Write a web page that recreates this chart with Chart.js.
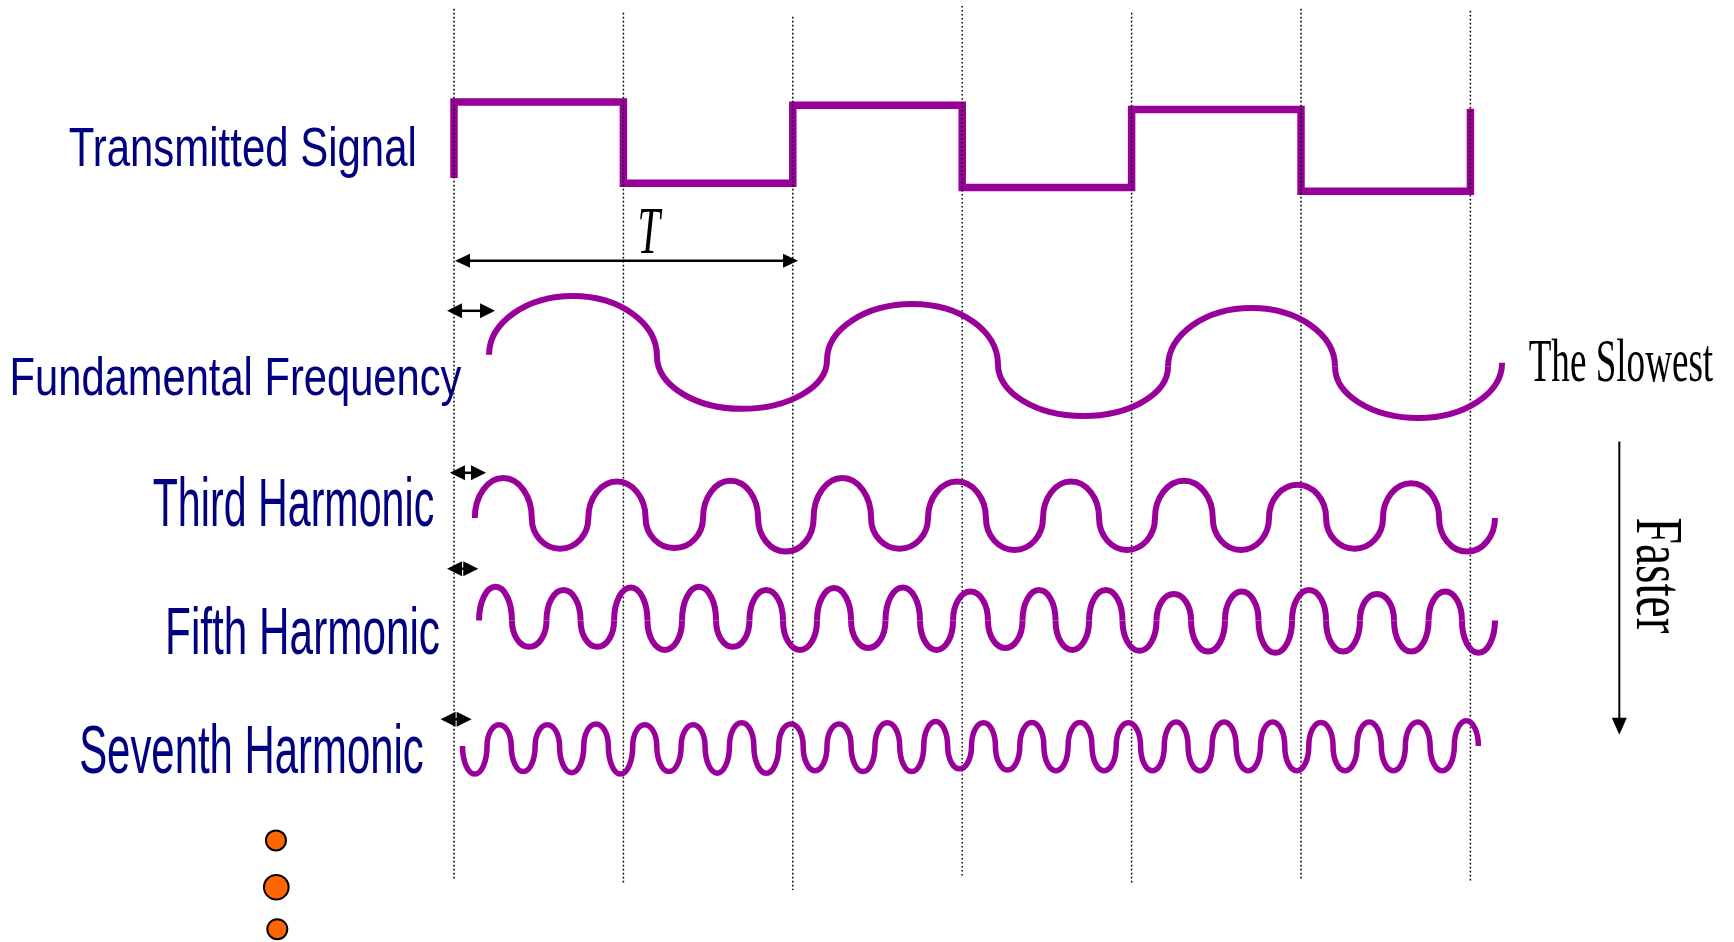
<!DOCTYPE html>
<html>
<head>
<meta charset="utf-8">
<title>Square wave and its odd harmonics</title>
<script src="https://cdn.jsdelivr.net/npm/chart.js@4.4.1/dist/chart.umd.min.js"></script>
<style>
  html, body { margin: 0; padding: 0; background: #fff; }
  #wrap { width: 1734px; height: 942px; }
</style>
</head>
<body>
<div id="wrap"><canvas id="chart" width="1734" height="942"></canvas></div>
<script>
// x axis: time in bit periods (T/2), 0 = first dotted line
// y axis: signal level in arbitrary units
const X_MIN = -2.68;
const X_MAX = 7.556;
const Y_MIN = 0;
const Y_MAX = 23.55;

// Bit boundaries (dotted lines) and how far each line reaches
const bitEdges = [0, 1, 2, 3, 4, 5, 6];
const gridTop = [23.33, 23.23, 23.13, 23.4, 23.23, 23.33, 23.28];
const gridBottom = [1.58, 1.43, 1.3, 1.63, 1.43, 1.58, 1.53];

// Transmitted square wave: level of each bit
const squareStart = 19.1;
const squareLevels = [21.0, 18.97, 20.92, 18.86, 20.81, 18.77];
const squareEnd = 20.83;

// Fundamental: zero crossings (t), level at each crossing, peak/trough levels
const fundNodes = [0.207, 1.198, 2.202, 3.211, 4.215, 5.201, 6.187];
const fundBase = [14.68, 14.65, 14.55, 14.45, 14.38, 14.38, 14.48];
const fundApex = [16.15, 13.33, 15.95, 13.15, 15.85, 13.1];

// Third harmonic
const thirdNodes = [0.123, 0.459, 0.793, 1.131, 1.47, 1.795, 2.123, 2.462, 2.798, 3.14,
  3.477, 3.808, 4.138, 4.479, 4.811, 5.148, 5.484, 5.815, 6.145];
const thirdBase = 10.6;
const thirdApex = [11.6, 9.83, 11.51, 9.85, 11.53, 9.76, 11.6, 9.83, 11.51, 9.8,
  11.51, 9.8, 11.53, 9.8, 11.43, 9.83, 11.47, 9.76];

// Fifth harmonic
const fifthNodes = [0.148, 0.342, 0.546, 0.747, 0.945, 1.142, 1.346, 1.547, 1.744, 1.942,
  2.143, 2.344, 2.547, 2.751, 2.946, 3.152, 3.356, 3.551, 3.749, 3.946,
  4.147, 4.351, 4.551, 4.749, 4.947, 5.148, 5.348, 5.549, 5.753, 5.95, 6.145];
const fifthBase = 8.04;
const fifthApex = [8.88, 7.38, 8.8, 7.38, 8.86, 7.3, 8.88, 7.38, 8.8, 7.3,
  8.85, 7.35, 8.86, 7.3, 8.76, 7.35, 8.8, 7.3, 8.8, 7.28,
  8.7, 7.26, 8.76, 7.23, 8.8, 7.26, 8.7, 7.26, 8.76, 7.23];

// Seventh harmonic (starts with a trough)
const seventhNodes = [0.05, 0.195, 0.338, 0.479, 0.623, 0.766, 0.911, 1.055, 1.197, 1.341,
  1.482, 1.626, 1.77, 1.917, 2.061, 2.202, 2.344, 2.485, 2.631, 2.773,
  2.914, 3.055, 3.196, 3.34, 3.482, 3.625, 3.766, 3.909, 4.053, 4.193,
  4.333, 4.475, 4.617, 4.761, 4.904, 5.046, 5.189, 5.331, 5.474, 5.616,
  5.762, 5.905, 6.047];
const seventhBase = 4.9;
const seventhApex = [4.2, 5.43, 4.26, 5.43, 4.23, 5.45, 4.2, 5.43, 4.26, 5.43,
  4.22, 5.48, 4.22, 5.45, 4.28, 5.45, 4.26, 5.48, 4.26, 5.51,
  4.33, 5.48, 4.3, 5.49, 4.28, 5.49, 4.28, 5.48, 4.28, 5.5,
  4.28, 5.5, 4.28, 5.5, 4.28, 5.49, 4.28, 5.5, 4.28, 5.5,
  4.28, 5.53];

// Phase-offset markers at the left of each wave
const offsetFrom = [-0.041, -0.024, -0.041, -0.079];
const offsetTo = [0.242, 0.189, 0.143, 0.104];
const offsetLevel = [15.78, 11.73, 9.33, 5.57];

// Period arrow "T" and the "Faster" arrow
const periodArrow = [0.006, 2.031, 17.03];
const fasterArrow = [6.879, 12.51, 5.18];

// "more harmonics" dots
const dotsT = [-1.051, -1.049, -1.043];
const dotsV = [2.54, 1.37, 0.32];

const PURPLE = "#990099";
const NAVY = "#000080";
const ORANGE = "#ff6600";
const SANS = '"Liberation Sans", Arial, sans-serif';
const SERIF = '"Liberation Serif", "Times New Roman", serif';

// Text placement (ink left, baseline, ink width, cap height in px)
const labels = [
  { text: "Transmitted Signal", x: 69.4, y: 166, w: 345, cap: 37.7, family: SANS, color: NAVY },
  { text: "Fundamental Frequency", x: 12.7, y: 395, w: 449, cap: 36.7, family: SANS, color: NAVY },
  { text: "Third Harmonic", x: 153.3, y: 526, w: 280, cap: 47.7, family: SANS, color: NAVY },
  { text: "Fifth Harmonic", x: 168.3, y: 654, w: 271, cap: 45.7, family: SANS, color: NAVY },
  { text: "Seventh Harmonic", x: 81, y: 772.7, w: 342.3, cap: 46.7, family: SANS, color: NAVY },
  { text: "The Slowest", x: 1529.3, y: 381, w: 184, cap: 39.3, family: SERIF, color: "#000" },
  { text: "T", x: 640, y: 253.3, w: 22.7, cap: 44, family: SERIF, style: "italic", color: "#000" },
  { text: "Faster", x: 1636.7, y: 518.3, w: 115, cap: 43.3, family: SERIF, color: "#000", angle: Math.PI / 2 },
];

// Build chart points from the arrays above
const squarePoints = [{ x: bitEdges[0], y: squareStart }];
squareLevels.forEach((lvl, i) => {
  squarePoints.push({ x: bitEdges[i], y: lvl }, { x: bitEdges[i + 1], y: lvl });
});
squarePoints.push({ x: bitEdges[bitEdges.length - 1], y: squareEnd });

function wavePoints(nodes, base, apex) {
  const pts = [];
  nodes.forEach((t, i) => {
    pts.push({ x: t, y: Array.isArray(base) ? base[i] : base });
    if (i < apex.length) pts.push({ x: (t + nodes[i + 1]) / 2, y: apex[i] });
  });
  return pts;
}

const gridSets = bitEdges.map((t, i) => ({
  data: [{ x: t, y: gridTop[i] }, { x: t, y: gridBottom[i] }],
  borderColor: "#000",
  borderWidth: 1.5,
  borderDash: [1.6, 2.4],
  pointRadius: 0,
}));

function waveSet(pts, width) {
  return { data: pts, showLine: false, pointRadius: 0, lobeWidth: width, lobeColor: PURPLE };
}

// Waves are drawn as joined half-ellipse lobes through the dataset points
const K = 0.5523;
const lobePlugin = {
  id: "lobes",
  afterDatasetsDraw(chart) {
    const ctx = chart.ctx;
    chart.data.datasets.forEach((ds, di) => {
      if (!ds.lobeWidth) return;
      const pts = chart.getDatasetMeta(di).data;
      ctx.save();
      ctx.strokeStyle = ds.lobeColor;
      ctx.lineWidth = ds.lobeWidth;
      ctx.lineCap = "butt";
      for (let i = 0; i + 2 < pts.length; i += 2) {
        const a = pts[i], p = pts[i + 1], b = pts[i + 2];
        ctx.beginPath();
        ctx.moveTo(a.x, a.y);
        ctx.bezierCurveTo(a.x, a.y + K * (p.y - a.y), p.x - K * (p.x - a.x), p.y, p.x, p.y);
        ctx.bezierCurveTo(p.x + K * (b.x - p.x), p.y, b.x, b.y + K * (p.y - b.y), b.x, b.y);
        ctx.stroke();
      }
      ctx.restore();
    });
  },
};

function arrowHead(ctx, tx, ty, ux, uy, len, half) {
  const bx = tx - ux * len, by = ty - uy * len;
  ctx.beginPath();
  ctx.moveTo(tx, ty);
  ctx.lineTo(bx - uy * half, by + ux * half);
  ctx.lineTo(bx + uy * half, by - ux * half);
  ctx.closePath();
  ctx.fill();
}

function drawArrow(ctx, x1, y1, x2, y2, both, len, half) {
  const d = Math.hypot(x2 - x1, y2 - y1);
  const ux = (x2 - x1) / d, uy = (y2 - y1) / d;
  const L = Math.min(len, both ? d / 2 : d);
  const s = both ? L * 0.8 : 0;
  ctx.beginPath();
  ctx.moveTo(x1 + ux * s, y1 + uy * s);
  ctx.lineTo(x2 - ux * L * 0.8, y2 - uy * L * 0.8);
  ctx.stroke();
  arrowHead(ctx, x2, y2, ux, uy, L, half);
  if (both) arrowHead(ctx, x1, y1, -ux, -uy, L, half);
}

const arrowPlugin = {
  id: "arrows",
  afterDatasetsDraw(chart) {
    const ctx = chart.ctx;
    const xs = chart.scales.x, ys = chart.scales.y;
    ctx.save();
    ctx.fillStyle = "#000";
    ctx.strokeStyle = "#000";
    ctx.lineWidth = 2.5;
    offsetFrom.forEach((t, i) => {
      const y = ys.getPixelForValue(offsetLevel[i]);
      drawArrow(ctx, xs.getPixelForValue(t), y, xs.getPixelForValue(offsetTo[i]), y, true, 15, 7.5);
    });
    const py = ys.getPixelForValue(periodArrow[2]);
    drawArrow(ctx, xs.getPixelForValue(periodArrow[0]), py, xs.getPixelForValue(periodArrow[1]), py, true, 15, 7);
    ctx.lineWidth = 2;
    const fx = xs.getPixelForValue(fasterArrow[0]);
    drawArrow(ctx, fx, ys.getPixelForValue(fasterArrow[1]), fx, ys.getPixelForValue(fasterArrow[2]), false, 17, 7.5);
    ctx.restore();
  },
};

// Text is squeezed to the measured ink box of the original
const textPlugin = {
  id: "labels",
  afterDraw(chart) {
    const ctx = chart.ctx;
    labels.forEach((l) => {
      ctx.save();
      const st = l.style ? l.style + " " : "";
      ctx.font = `${st}100px ${l.family}`;
      const capRatio = ctx.measureText("H").actualBoundingBoxAscent / 100;
      ctx.font = `${st}${l.cap / capRatio}px ${l.family}`;
      const m = ctx.measureText(l.text);
      const inkW = m.actualBoundingBoxLeft + m.actualBoundingBoxRight;
      ctx.translate(l.x, l.y);
      if (l.angle) ctx.rotate(l.angle);
      ctx.scale(l.w / inkW, 1);
      ctx.fillStyle = l.color;
      ctx.textAlign = "left";
      ctx.textBaseline = "alphabetic";
      ctx.fillText(l.text, m.actualBoundingBoxLeft, 0);
      ctx.restore();
    });
  },
};

new Chart(document.getElementById("chart"), {
  type: "line",
  data: {
    datasets: [
      ...gridSets,
      {
        data: squarePoints,
        borderColor: PURPLE,
        borderWidth: 7.5,
        borderJoinStyle: "miter",
        borderCapStyle: "butt",
        tension: 0,
        pointRadius: 0,
      },
      waveSet(wavePoints(fundNodes, fundBase, fundApex), 6),
      waveSet(wavePoints(thirdNodes, thirdBase, thirdApex), 6),
      waveSet(wavePoints(fifthNodes, fifthBase, fifthApex), 6),
      waveSet(wavePoints(seventhNodes, seventhBase, seventhApex), 5.5),
      {
        data: dotsT.map((t, i) => ({ x: t, y: dotsV[i] })),
        showLine: false,
        pointRadius: [10, 12.3, 10],
        pointBackgroundColor: ORANGE,
        pointBorderColor: "#000",
        pointBorderWidth: 2,
        clip: false,
      },
    ],
  },
  options: {
    responsive: false,
    devicePixelRatio: 1,
    animation: false,
    events: [],
    layout: { padding: 0, autoPadding: false },
    plugins: { legend: { display: false }, tooltip: { enabled: false } },
    scales: {
      x: { type: "linear", min: X_MIN, max: X_MAX, display: false },
      y: { type: "linear", min: Y_MIN, max: Y_MAX, display: false },
    },
  },
  plugins: [lobePlugin, arrowPlugin, textPlugin],
});
</script>
</body>
</html>
